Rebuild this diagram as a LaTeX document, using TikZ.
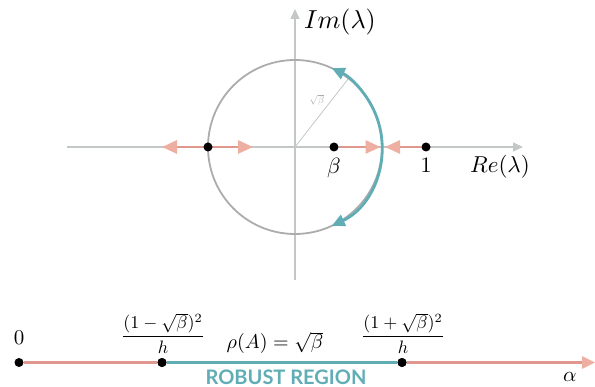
\documentclass[tikz,border=0pt]{standalone}
\usepackage{amsmath}
\usepackage{fontspec}
\newfontfamily\robustfont{Lato}
\usetikzlibrary{arrows.meta,calc}
\definecolor{axisgray}{RGB}{196,199,199}
\definecolor{circgray}{RGB}{172,172,172}
\definecolor{sal}{RGB}{224,152,142}
\definecolor{salhead}{RGB}{238,174,162}
\definecolor{tealc}{RGB}{96,173,182}
\newcommand{\sz}[2]{\scalebox{#1}{#2}}
\tikzset{
  axisline/.style={axisgray, line width=1.4pt, -{Triangle[length=10pt,width=9pt]}},
  redarrow/.style={sal, line width=2.8pt, -{Triangle[length=15pt,width=13pt,color=salhead]}},
  redboth/.style={sal, line width=2.8pt, {Triangle[length=15pt,width=13pt,color=salhead]}-{Triangle[length=15pt,width=13pt,color=salhead]}},
  dot/.style={circle, fill=black, inner sep=0pt, minimum size=9pt},
  lab/.style={inner sep=0pt},
}
\begin{document}
\begin{tikzpicture}[x=1pt,y=1pt]
\useasboundingbox (0,0) rectangle (595,387);
% axes
\coordinate (O) at (295,240);
\coordinate (xl) at (67,240);
\coordinate (xr) at (523,240);
\coordinate (yb) at (295,107);
\coordinate (yt) at (295,378);
\draw[axisline] (xl) -- (xr);
\draw[axisline] (yb) -- (yt);
% circle
\draw[circgray, line width=1.8pt] (O) circle[radius=87pt];
% radius
\coordinate (rend) at ($(O)+(52:87pt)$);
\draw[axisgray, line width=0.8pt] (O) -- (rend);
\node[lab, text=circgray] (rlab) at (317,287) {\sz{1.0}{$\sqrt{\beta}$}};
% teal arc
\draw[tealc, line width=2.8pt, {Triangle[length=13pt,width=12pt]}-{Triangle[length=13pt,width=12pt]}]
  ($(O)+(-65:87pt)$) arc[start angle=-65, end angle=65, radius=87pt];
% red arrows
\coordinate (la) at (162,240);
\coordinate (ra) at (253,240);
\coordinate (cb) at (380.5,240);
\coordinate (c1) at (385,240);
\draw[redboth] (la) -- (ra);
\node[dot] (L) at (208,240) {};
\node[dot] (B) at (334,240) {};
\node[dot] (One) at (426,240) {};
\draw[redarrow] (B) -- (cb);
\draw[redarrow] (One) -- (c1);
% labels
\node[lab] (im) at (340,365) {\sz{2.6}{$Im(\lambda)$}};
\node[lab] (re) at (500,220) {\sz{2.3}{$Re(\lambda)$}};
\node[lab] (bl) at (334,219) {\sz{2.2}{$\beta$}};
\node[lab] (ol) at (426,222) {\sz{2.2}{$1$}};
% bottom line
\coordinate (end) at (595,24.5);
\node[dot] (Z) at (19,24.5) {};
\node[dot] (P1) at (162,24.5) {};
\node[dot] (P2) at (402,24.5) {};
\draw[sal, line width=2.8pt] (Z) -- (P1);
\draw[tealc, line width=2.8pt] (P1) -- (P2);
\draw[sal, line width=2.8pt, -{Triangle[length=13pt,width=12pt,color=salhead]}] (P2) -- (end);
\node[dot] at (P1) {};
\node[dot] at (P2) {};
\node[lab] (zl) at (19,49) {\sz{2.1}{$0$}};
\node[lab] (f1) at (163,53.5) {\sz{1.8}{$\dfrac{(1-\sqrt{\beta})^2}{h}$}};
\node[lab] (f2) at (403,53.5) {\sz{1.8}{$\dfrac{(1+\sqrt{\beta})^2}{h}$}};
\node[lab] (rho) at (275,44) {\sz{2.0}{$\rho(A)=\sqrt{\beta}$}};
\node[lab, text=tealc, font=\robustfont\bfseries\fontsize{20}{24}\selectfont] (rr) at (286,10) {ROBUST REGION};
\node[lab] (al) at (570,10) {\sz{2.1}{$\alpha$}};
\end{tikzpicture}
\end{document}
